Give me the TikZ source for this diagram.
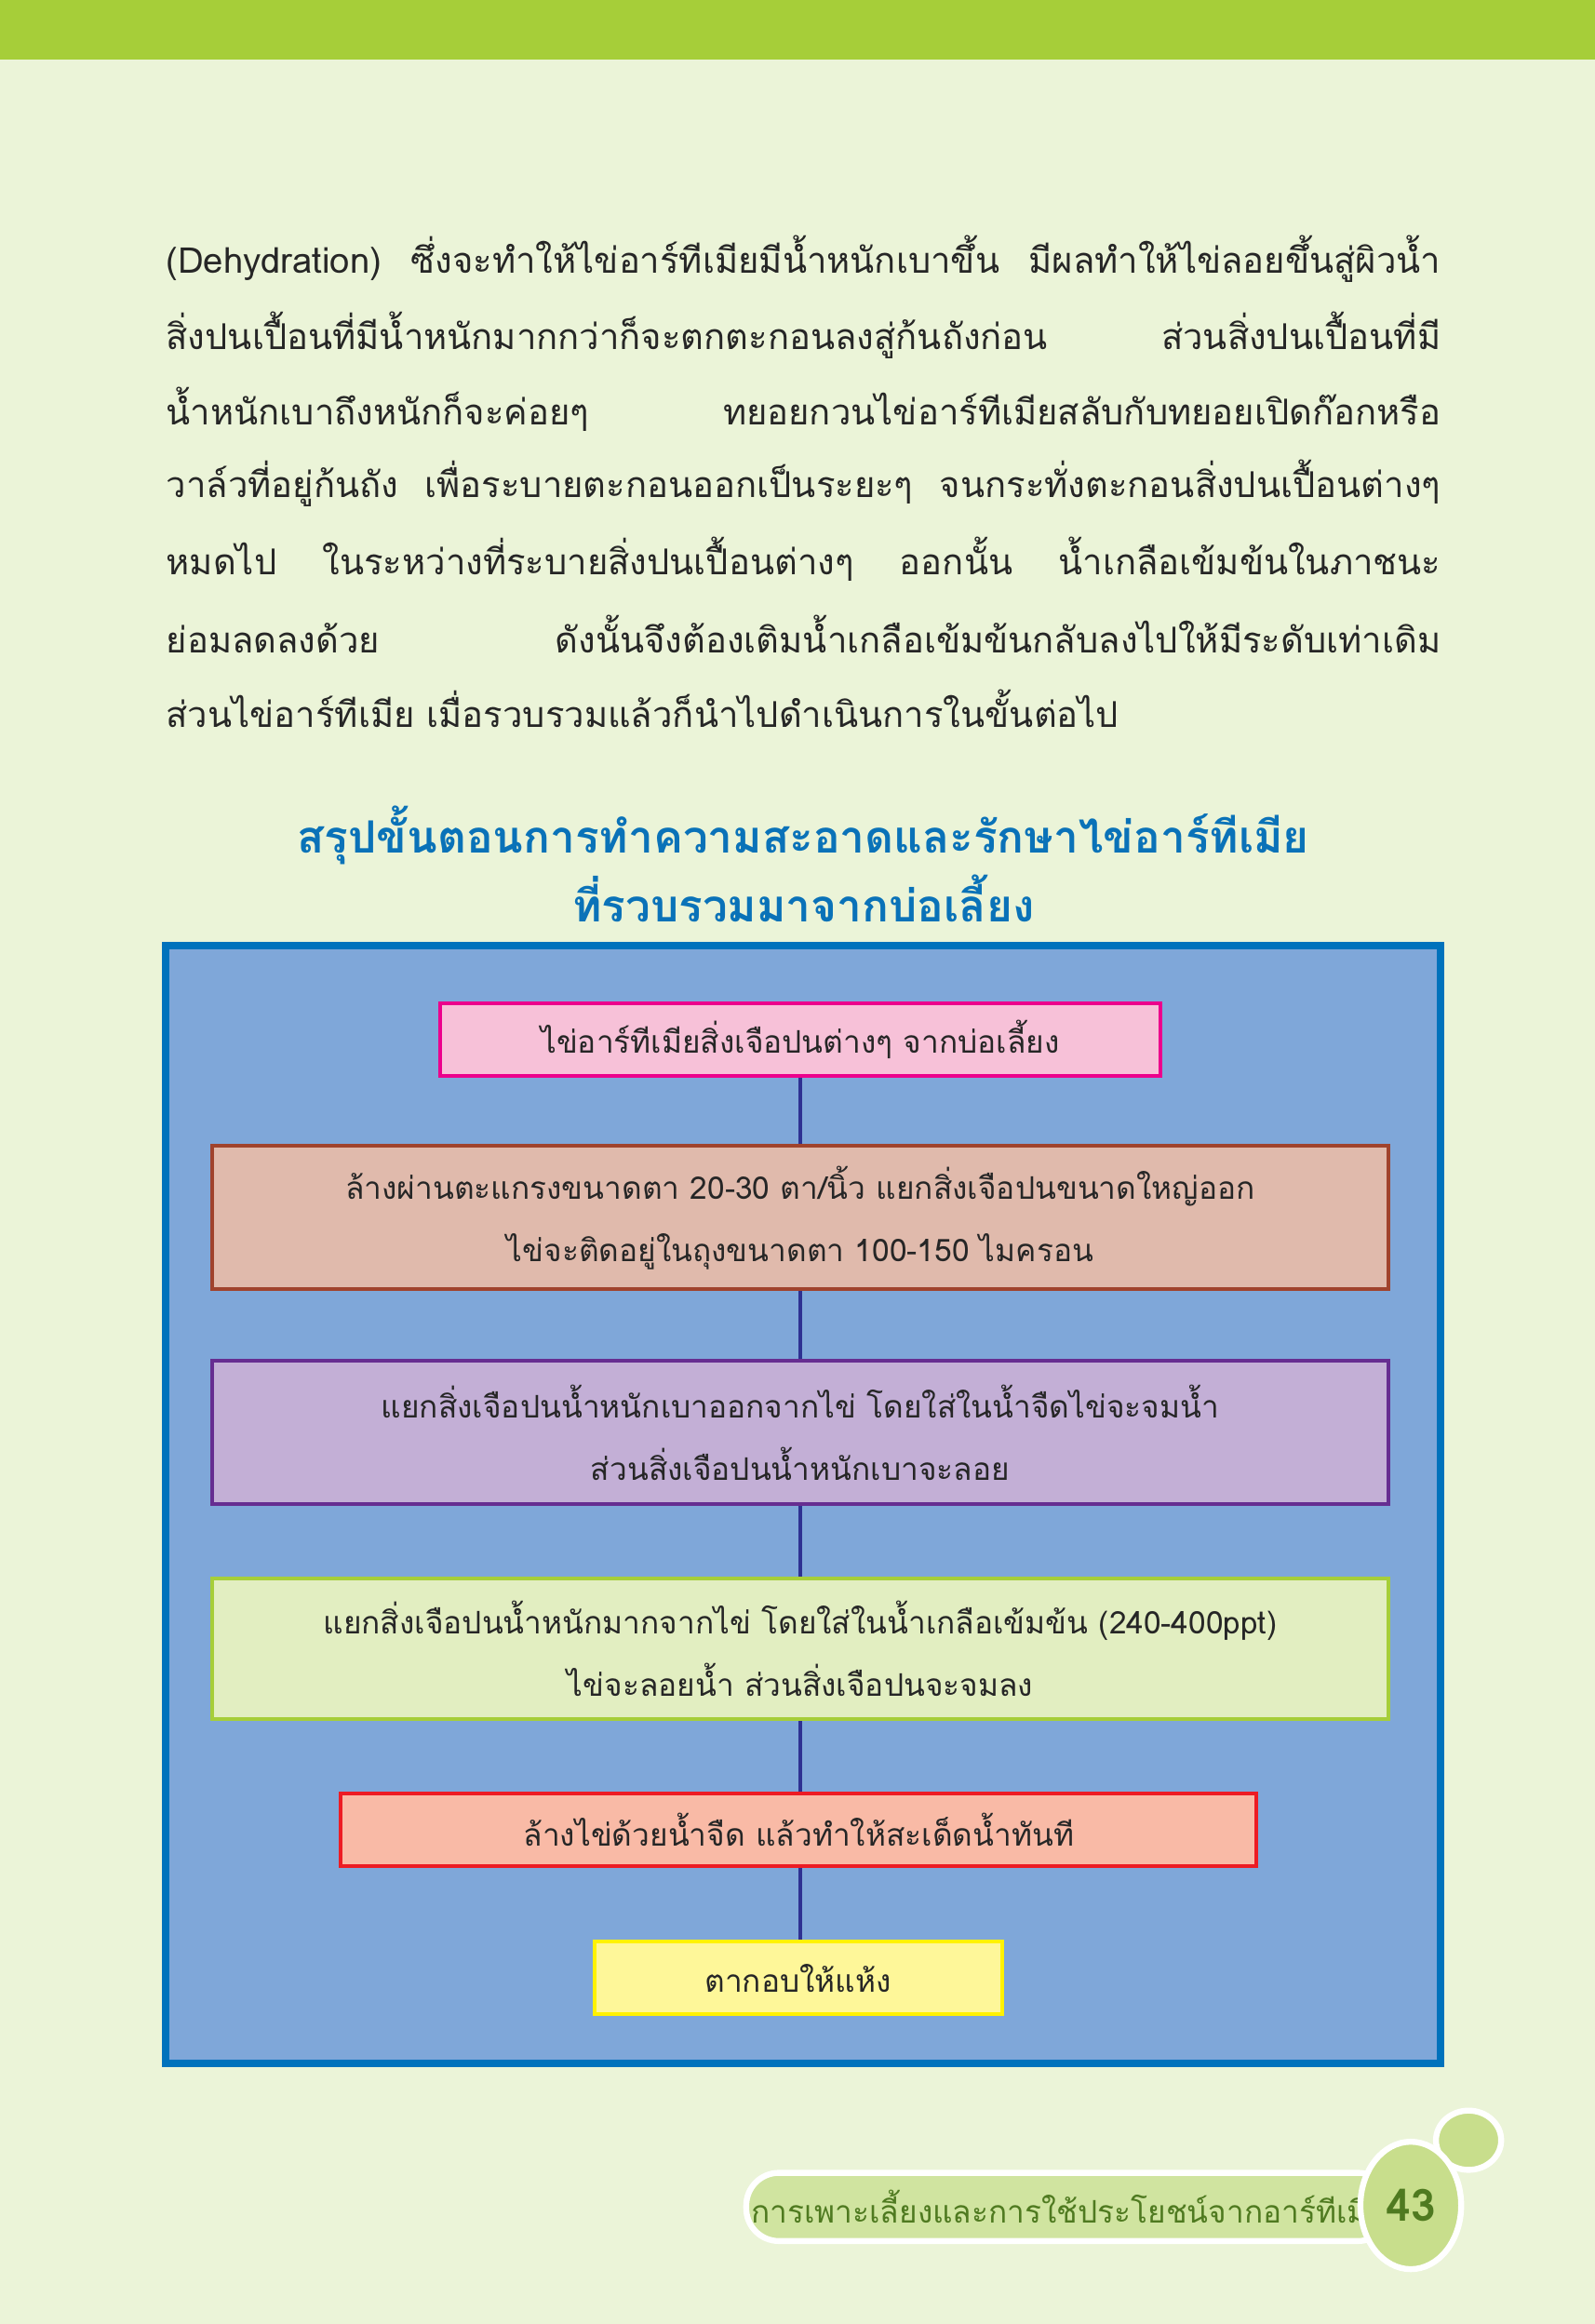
\documentclass[tikz,border=0pt]{standalone}
\usepackage{fontspec}
\setmainfont{Loma}[Script=Thai]
\usetikzlibrary{shapes.geometric}
\definecolor{bg}{HTML}{EBF4D8}
\definecolor{topbar}{HTML}{A6CE39}
\definecolor{ttl}{HTML}{0A72B8}
\definecolor{frame}{HTML}{0072BC}
\definecolor{panel}{HTML}{7FA7D9}
\definecolor{conn}{HTML}{2E3192}
\definecolor{dgreen}{HTML}{4F7A20}
\definecolor{d1}{HTML}{EC008C}\definecolor{f1}{HTML}{F7C1D8}
\definecolor{d2}{HTML}{A0432D}\definecolor{f2}{HTML}{E0BAAC}
\definecolor{d3}{HTML}{662D91}\definecolor{f3}{HTML}{C3AFD6}
\definecolor{d4}{HTML}{A6CE39}\definecolor{f4}{HTML}{E2EEC1}
\definecolor{d5}{HTML}{ED1C24}\definecolor{f5}{HTML}{F9BAA6}
\definecolor{d6}{HTML}{FFF200}\definecolor{f6}{HTML}{FEF799}
\definecolor{pillf}{HTML}{D0E4A0}\definecolor{bubf}{HTML}{C8DE8C}
\tikzset{
 para/.style={anchor=west,inner sep=0pt,font=\fontsize{24}{28}\selectfont,text=black!85},
 box/.style={draw,line width=2.5pt,minimum height=#1,inner sep=0pt,align=center,font=\fontsize{21}{42}\selectfont,text=black!85},
 link/.style={conn,line width=2pt}
}
\newcommand{\jl}[1]{\makebox[860pt][s]{#1}}
\begin{document}
\begin{tikzpicture}[x=1pt,y=-1pt]
\useasboundingbox (0,0) rectangle (1076,1568);
\fill[bg] (0,0) rectangle (1076,1568);
\fill[topbar] (0,0) rectangle (1076,40);
\node[para] (l1) at (112,175) {\jl{(Dehydration) ซึ่งจะทำให้ไข่อาร์ทีเมียมีน้ำหนักเบาขึ้น มีผลทำให้ไข่ลอยขึ้นสู่ผิวน้ำ}};
\node[para] (l2) at (112,226) {\jl{สิ่งปนเปื้อนที่มีน้ำหนักมากกว่าก็จะตกตะกอนลงสู่ก้นถังก่อน ส่วนสิ่งปนเปื้อนที่มี}};
\node[para] (l3) at (112,276) {\jl{น้ำหนักเบาถึงหนักก็จะค่อยๆ ทยอยกวนไข่อาร์ทีเมียสลับกับทยอยเปิดก๊อกหรือ}};
\node[para] (l4) at (112,326) {\jl{วาล์วที่อยู่ก้นถัง เพื่อระบายตะกอนออกเป็นระยะๆ จนกระทั่งตะกอนสิ่งปนเปื้อนต่างๆ}};
\node[para] (l5) at (112,377) {\jl{หมดไป ในระหว่างที่ระบายสิ่งปนเปื้อนต่างๆ ออกนั้น น้ำเกลือเข้มข้นในภาชนะ}};
\node[para] (l6) at (112,428) {\jl{ย่อมลดลงด้วย ดังนั้นจึงต้องเติมน้ำเกลือเข้มข้นกลับลงไปให้มีระดับเท่าเดิม}};
\node[para] (l7) at (112,478) {ส่วนไข่อาร์ทีเมีย เมื่อรวบรวมแล้วก็นำไปดำเนินการในขั้นต่อไป};
\node[align=center,text=ttl,font=\fontsize{30}{46}\selectfont\bfseries] (title) at (542,583) {สรุปขั้นตอนการทำความสะอาดและรักษาไข่อาร์ทีเมีย\\ที่รวบรวมมาจากบ่อเลี้ยง};
\draw[frame,fill=panel,line width=5pt] (112,638) rectangle (972,1392);
\node[box=49pt,minimum width=486pt,draw=d1,fill=f1] (b1) at (540,701.5) {ไข่อาร์ทีเมียสิ่งเจือปนต่างๆ จากบ่อเลี้ยง};
\node[box=97pt,minimum width=794pt,draw=d2,fill=f2] (b2) at (540,821.5) {ล้างผ่านตะแกรงขนาดตา 20-30 ตา/นิ้ว แยกสิ่งเจือปนขนาดใหญ่ออก\\ไข่จะติดอยู่ในถุงขนาดตา 100-150 ไมครอน};
\node[box=97pt,minimum width=794pt,draw=d3,fill=f3] (b3) at (540,966.5) {แยกสิ่งเจือปนน้ำหนักเบาออกจากไข่ โดยใส่ในน้ำจืดไข่จะจมน้ำ\\ส่วนสิ่งเจือปนน้ำหนักเบาจะลอย};
\node[box=95pt,minimum width=794pt,draw=d4,fill=f4] (b4) at (540,1112.5) {แยกสิ่งเจือปนน้ำหนักมากจากไข่ โดยใส่ในน้ำเกลือเข้มข้น (240-400ppt)\\ไข่จะลอยน้ำ ส่วนสิ่งเจือปนจะจมลง};
\node[box=49pt,minimum width=618pt,draw=d5,fill=f5] (b5) at (539,1234.5) {ล้างไข่ด้วยน้ำจืด แล้วทำให้สะเด็ดน้ำทันที};
\node[box=49pt,minimum width=275pt,draw=d6,fill=f6] (b6) at (538.5,1334.5) {ตากอบให้แห้ง};
\foreach \a/\b in {b1/b2,b2/b3,b3/b4,b4/b5,b5/b6}
  \draw[link] (\a.south -| 540,0) -- (\b.north -| 540,0);
\node[draw=white,line width=4pt,fill=pillf,rounded corners=22pt,minimum width=368pt,minimum height=46pt,text=dgreen,font=\fontsize{21}{24}\selectfont] (pill) at (721,1489) {การเพาะเลี้ยงและการใช้ประโยชน์จากอาร์ทีเมีย};
\node[ellipse,draw=white,line width=4pt,fill=bubf,minimum width=44pt,minimum height=40pt] (bub) at (991,1444) {};
\node[ellipse,draw=white,line width=4pt,fill=bubf,minimum width=68pt,minimum height=86pt,text=dgreen,font=\fontsize{30}{34}\selectfont\bfseries] (num) at (952,1488) {43};
\end{tikzpicture}
\end{document}
